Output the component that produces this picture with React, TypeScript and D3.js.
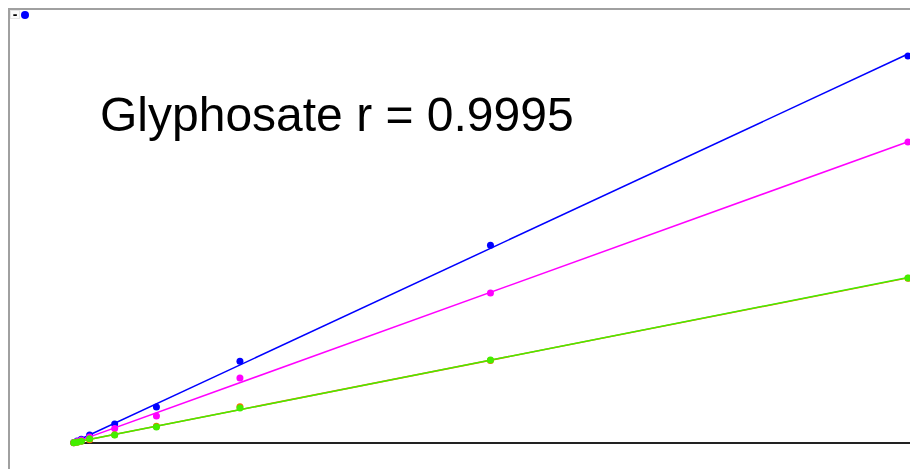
import React, { useEffect, useRef } from "react";
import * as d3 from "d3";

// concentration levels (x) and responses per series (y)
const levels = [0.1, 0.5, 1, 2, 5, 10, 20, 50, 100];
const blueVals = [0.05, 0.23, 0.45, 0.93, 2.2, 4.2, 9.5, 23.0, 45.0];
const magentaVals = [0.035, 0.17, 0.35, 0.7, 1.7, 3.14, 7.56, 17.45, 35.0];
const orangeVals = [0.02, 0.1, 0.19, 0.38, 0.95, 1.95, 4.22, 9.6, 19.15];
const greenVals = [0.02, 0.09, 0.19, 0.5, 0.93, 1.86, 4.07, 9.65, 19.2];
const seriesNames = ["blue", "magenta", "orange", "green"];
const seriesColors = ["#0000ff", "#ff00ff", "#ff6a00", "#44ee00"];
const title = "Glyphosate r = 0.9995";

const W = 910;
const H = 469;

function fit(xs: number[], ys: number[]) {
  const mx = d3.mean(xs)!;
  const my = d3.mean(ys)!;
  let num = 0;
  let den = 0;
  xs.forEach((x, i) => {
    num += (x - mx) * (ys[i] - my);
    den += (x - mx) * (x - mx);
  });
  const b = num / den;
  return { a: my - b * mx, b };
}

const App: React.FC = () => {
  const svgRef = useRef<SVGSVGElement | null>(null);

  useEffect(() => {
    document.body.style.margin = "0";
    document.body.style.overflow = "hidden";
    if (!svgRef.current) return;
    const svg = d3.select(svgRef.current);
    svg.selectAll("*").remove();

    const x = d3.scaleLinear().domain([-0.35, 100]).range([70, 908]);
    const y = d3.scaleLinear().domain([0, 50]).range([443, 13]);

    // outer frame
    svg
      .append("rect")
      .attr("x", 9)
      .attr("y", 9)
      .attr("width", W + 20)
      .attr("height", H + 20)
      .attr("fill", "#fff")
      .attr("stroke", "#a0a0a0")
      .attr("stroke-width", 2);

    // tiny legend toggle in the corner
    svg
      .append("rect")
      .attr("x", 10.5)
      .attr("y", 10.5)
      .attr("width", 9)
      .attr("height", 8)
      .attr("fill", "#fafafa")
      .attr("stroke", "#e4e4e4")
      .attr("stroke-width", 1);
    svg
      .append("text")
      .attr("x", 15)
      .attr("y", 18.5)
      .attr("text-anchor", "middle")
      .attr("font-family", "Liberation Sans, Arial, sans-serif")
      .attr("font-size", 14)
      .attr("font-weight", "bold")
      .attr("fill", "#000")
      .text("-");
    svg
      .append("circle")
      .attr("cx", 25)
      .attr("cy", 15)
      .attr("r", 4)
      .attr("fill", "#0000ff");

    // x axis baseline
    svg
      .append("line")
      .attr("x1", x.range()[0])
      .attr("x2", W)
      .attr("y1", y(0))
      .attr("y2", y(0))
      .attr("stroke", "#222")
      .attr("stroke-width", 2);

    const allVals = [blueVals, magentaVals, orangeVals, greenVals];

    allVals.forEach((vals, i) => {
      const { a, b } = fit(levels, vals);
      const x0 = d3.min(levels)!;
      const x1 = d3.max(levels)!;
      const g = svg.append("g").attr("class", seriesNames[i]);
      g.append("line")
        .attr("x1", x(x0))
        .attr("y1", y(a + b * x0))
        .attr("x2", x(x1))
        .attr("y2", y(a + b * x1))
        .attr("stroke", seriesColors[i])
        .attr("stroke-width", 1.5);
      g.selectAll("circle")
        .data(vals)
        .enter()
        .append("circle")
        .attr("cx", (_, j) => x(levels[j]))
        .attr("cy", (d) => y(d))
        .attr("r", 3.5)
        .attr("fill", seriesColors[i]);
    });

    svg
      .append("text")
      .attr("x", 100)
      .attr("y", 131)
      .attr("font-family", "Liberation Sans, Arial, sans-serif")
      .attr("font-size", 48)
      .attr("fill", "#000")
      .text(title);
  }, []);

  return (
    <svg
      ref={svgRef}
      width={W}
      height={H}
      style={{ display: "block", position: "fixed", left: 0, top: 0 }}
    />
  );
};

export default App;
